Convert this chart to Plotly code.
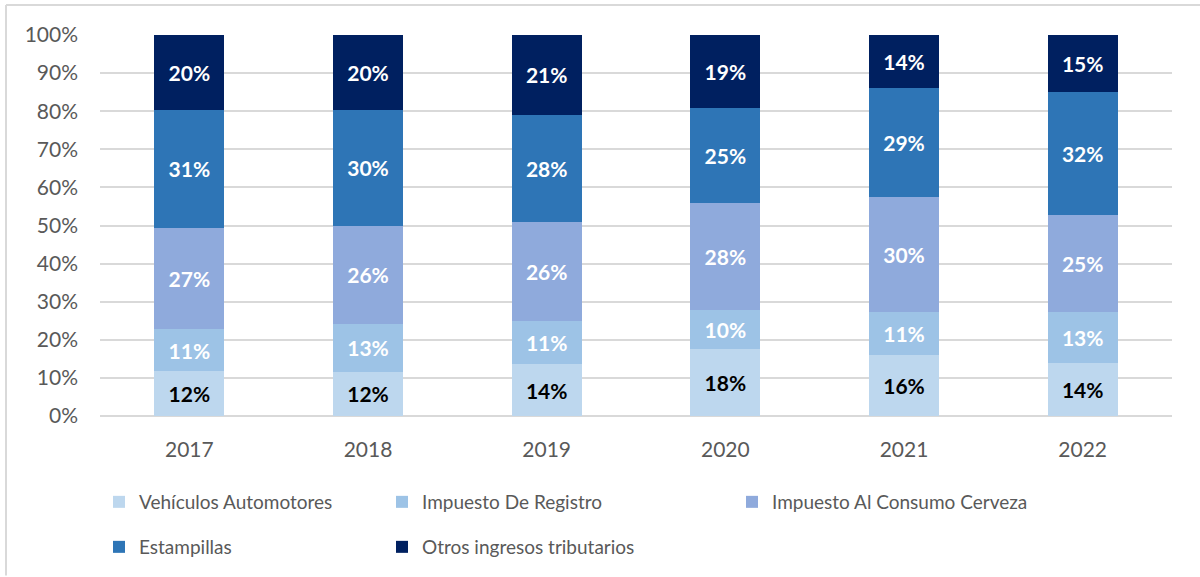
import plotly.graph_objects as go

years = ["2017", "2018", "2019", "2020", "2021", "2022"]
vehiculos = [11.8, 11.6, 13.6, 17.7, 16.0, 14.0]
registro = [11.0, 12.6, 11.3, 10.0, 11.4, 13.4]
cerveza = [26.6, 25.8, 25.9, 28.1, 30.0, 25.3]
estampillas = [30.9, 30.4, 28.3, 25.1, 28.6, 32.3]
otros = [19.7, 19.6, 20.9, 19.1, 14.0, 15.0]

series_names = ["Vehículos Automotores", "Impuesto De Registro",
                "Impuesto Al Consumo Cerveza", "Estampillas",
                "Otros ingresos tributarios"]
series_values = [vehiculos, registro, cerveza, estampillas, otros]
colors = ["#BDD7EE", "#9DC3E6", "#8FAADC", "#2E75B6", "#002060"]
label_colors = ["#000000", "#FFFFFF", "#FFFFFF", "#FFFFFF", "#FFFFFF"]

W, H = 1200, 577
L, R, T, B = 100, 28, 35, 160
pw, ph = W - L - R, H - T - B

def px_x(x):
    return (x - L) / pw

def px_y(y):
    return (H - B - y) / ph

FONT = "Lato"
GRAY = "#595959"

# legend placement (pixel positions of item start / row centres)
legend_pos = [(99, 502), (382, 502), (732, 502), (99, 547), (382, 547)]

fig = go.Figure()
for i, (name, vals) in enumerate(zip(series_names, series_values)):
    lg = "legend" if i == 0 else f"legend{i+1}"
    fig.add_trace(go.Bar(
        x=years, y=vals, name=name,
        marker=dict(color=colors[i], line=dict(width=0)),
        texttemplate="%{y:.0f}%", textposition="inside",
        insidetextanchor="middle", textangle=0,
        textfont=dict(family=FONT, size=21, color=label_colors[i], weight="bold"),
        legend=lg, hoverinfo="skip",
    ))

layout_legends = {}
for i, (lx, ly) in enumerate(legend_pos):
    key = "legend" if i == 0 else f"legend{i+1}"
    layout_legends[key] = dict(
        x=px_x(lx), y=px_y(ly), xanchor="left", yanchor="middle",
        font=dict(family=FONT, size=19, color=GRAY),
        bgcolor="rgba(0,0,0,0)", borderwidth=0,
    )

fig.update_layout(
    width=W, height=H,
    margin=dict(l=L, r=R, t=T, b=B, pad=0),
    paper_bgcolor="white", plot_bgcolor="white",
    barmode="stack", bargap=0.608,
    showlegend=True,
    uniformtext=dict(mode=False),
    **layout_legends,
)
fig.update_xaxes(
    type="category", showgrid=False, showline=False, zeroline=False,
    ticks="", ticklabelstandoff=19,
    tickfont=dict(family=FONT, size=21, color=GRAY),
)
fig.update_yaxes(
    range=[0, 100], dtick=10, ticksuffix="%",
    showgrid=True, gridcolor="#D9D9D9", gridwidth=2,
    zeroline=True, zerolinecolor="#D9D9D9", zerolinewidth=2,
    showline=False, ticks="", ticklabelstandoff=21,
    tickfont=dict(family=FONT, size=21, color=GRAY),
)

# outer chart frame (top and left edges visible in the crop)
fig.add_shape(type="line", xref="paper", yref="paper",
              x0=px_x(6), x1=px_x(1200), y0=px_y(5), y1=px_y(5),
              line=dict(color="#D9D9D9", width=2), layer="below")
fig.add_shape(type="line", xref="paper", yref="paper",
              x0=px_x(6), x1=px_x(6), y0=px_y(5), y1=px_y(577),
              line=dict(color="#D9D9D9", width=2), layer="below")

fig.write_html("out.html", config={"displayModeBar": False},
               post_script="document.body.style.margin='0';")
